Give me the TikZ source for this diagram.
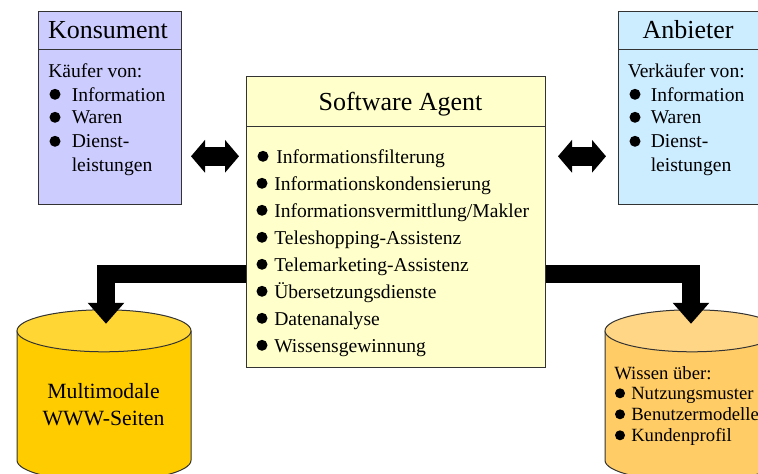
\documentclass[tikz,border=0pt]{standalone}
\usepackage{fontspec}
\setmainfont{Liberation Serif}
\usetikzlibrary{arrows.meta}
\definecolor{konsfill}{HTML}{CCCCFF}
\definecolor{anbfill}{HTML}{CCECFF}
\definecolor{agentfill}{HTML}{FFFFCC}
\definecolor{wwwbody}{HTML}{FFCC00}
\definecolor{wwwtop}{HTML}{FFD633}
\definecolor{wissbody}{HTML}{FFCC66}
\definecolor{wisstop}{HTML}{FFD685}
\definecolor{edge}{HTML}{333333}
\tikzset{
  panel/.style={draw=edge,line width=0.75pt,anchor=north west,inner sep=0pt,outer sep=0pt},
  title/.style={font=\fontsize{19.5pt}{22pt}\selectfont,anchor=base,inner sep=0pt},
  line/.style={font=\fontsize{14.7pt}{17pt}\selectfont,anchor=base west,inner sep=0pt},
  small/.style={font=\fontsize{14pt}{17pt}\selectfont,anchor=base west,inner sep=0pt},
  big/.style={font=\fontsize{16.3pt}{19pt}\selectfont,anchor=base,inner sep=0pt},
  dot/.style={fill=black},
  doublearrow/.style={line width=14pt,{Triangle[length=10.5pt,width=24pt]}-{Triangle[length=10.5pt,width=24pt]}},
  bigarrow/.style={line width=13.9pt,-{Triangle[length=15.75pt,width=26.5pt]},rounded corners=0pt},
  cyl/.style={draw=edge,line width=0.75pt}
}
\newcommand{\cylinder}[4]{% left, right, body colour, top colour
  \fill[#3] (#1,330.5) -- (#1,460) arc[start angle=180,end angle=0,x radius={(#2-#1)/2},y radius=21] -- (#2,330.5) -- cycle;
  \draw[cyl] (#1,330.5) -- (#1,460) arc[start angle=180,end angle=0,x radius={(#2-#1)/2},y radius=21] -- (#2,330.5);
  \path[fill=#4,draw=edge,line width=0.75pt] (#1,330.5) arc[start angle=180,end angle=540,x radius={(#2-#1)/2},y radius=21] -- cycle;
}
\begin{document}
\begin{tikzpicture}[x=0.75pt,y=-0.75pt]
\useasboundingbox (0,-0.3) rectangle (758,473.7);
\clip (0,-0.3) rectangle (758,473.7);
% cylinders
\cylinder{17}{191}{wwwbody}{wwwtop}
\cylinder{605}{779}{wissbody}{wisstop}
\coordinate (wwwin) at (106,323.5);
\coordinate (wissin) at (691,323.5);
% boxes
\node[panel,fill=konsfill,minimum width=107.25pt,minimum height=144.75pt] (kons) at (38,11) {};
\node[panel,fill=anbfill,minimum width=112.5pt,minimum height=144.75pt] (anb) at (618,11) {};
% connectors
\coordinate (agentL) at (246,273.5);
\coordinate (agentR) at (546,273.5);
\draw[bigarrow] (agentL) -| (wwwin);
\draw[bigarrow] (agentR) -| (wissin);
\node[panel,fill=agentfill,minimum width=224.6pt,minimum height=218.25pt] (agent) at (246,76) {};
\coordinate (k1) at (191,156);
\coordinate (a1) at (239,156);
\coordinate (a2) at (558,156);
\coordinate (b2) at (606,156);
\draw[doublearrow] (k1) -- (a1);
\draw[doublearrow] (a2) -- (b2);
% rules
\draw[edge,line width=0.75pt] (38,49) -- (181,49);
\draw[edge,line width=0.75pt] (618,49) -- (768,49);
\draw[edge,line width=0.75pt] (246,126) -- (545.8,126);
% titles
\node[title] (t1) at (108,38.5) {Konsument};
\node[title] (t2) at (688,38.5) {Anbieter};
\node[title] (t3) at (400.5,110) {Software Agent};
% Konsument list
\node[line] (k0) at (48,77) {Käufer von:};
\foreach \y/\t in {101/Information,123/Waren,147/Dienst-,171/leistungen}{\node[line] at (71.5,\y) {\t};}
\foreach \y in {94,117,141}{\fill[dot] (55,\y) circle[radius=5.5];}
% Anbieter list
\node[line] (v0) at (627.5,77) {Verkäufer von:};
\foreach \y/\t in {101/Information,123/Waren,147/Dienst-,171/leistungen}{\node[line] at (650.5,\y) {\t};}
\foreach \y in {94,117,141}{\fill[dot] (635,\y) circle[radius=5.5];}
% Agent list
\node[line] at (276,163) {Informationsfilterung};
\fill[dot] (263,156) circle[radius=5.5];
\foreach \y/\t in {190/Informationskondensierung,217/{Informationsvermittlung/Makler},244/Teleshopping-Assistenz,271/Telemarketing-Assistenz,298/Übersetzungsdienste,325/Datenanalyse,352/Wissensgewinnung}{
  \node[line] at (274,\y) {\t};
  \fill[dot] (262,\y-7) circle[radius=5.5];
}
% WWW
\node[big] (w1) at (103.5,398) {Multimodale};
\node[big] (w2) at (103.5,425) {WWW-Seiten};
% Wissen
\node[small] (w0) at (614,379) {Wissen über:};
\foreach \y/\t in {399/Nutzungsmuster,420/Benutzermodelle,441/Kundenprofil}{
  \node[small] at (631,\y) {\t};
  \fill[dot] (620,\y-6) circle[radius=5];
}
\end{tikzpicture}
\end{document}
